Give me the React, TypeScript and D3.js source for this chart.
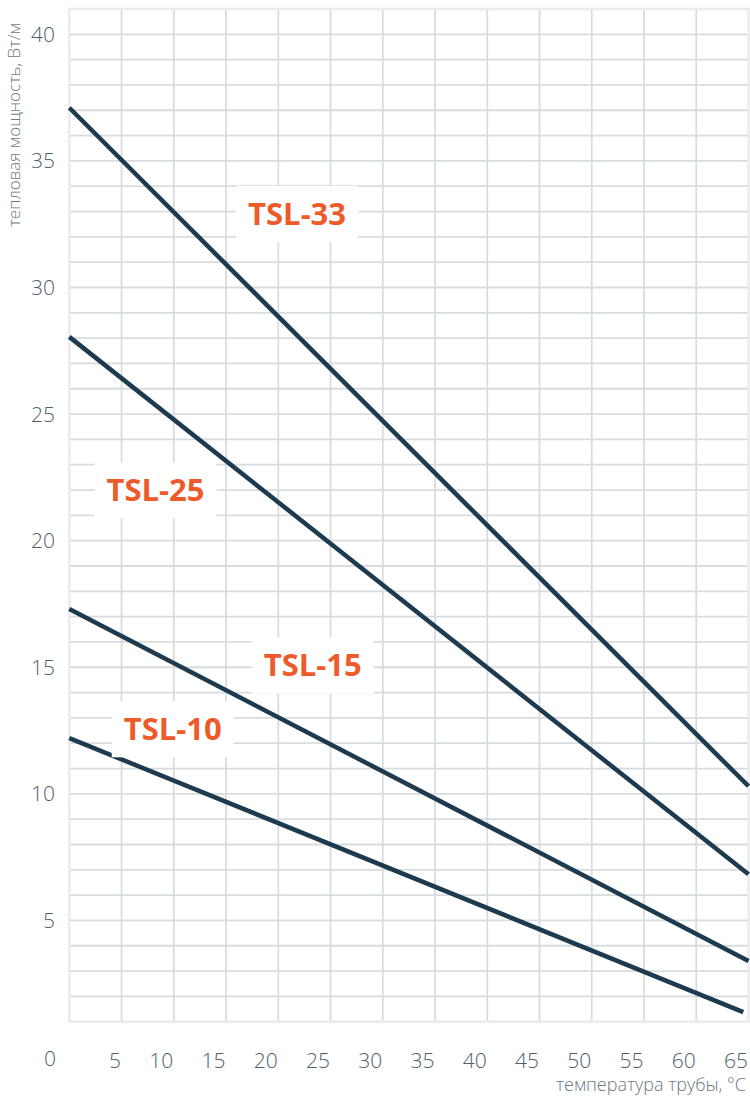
import * as d3 from 'd3';

// temperature axis (°C) and power axis (W/m)
const X_TICKS = [5, 10, 15, 20, 25, 30, 35, 40, 45, 50, 55, 60, 65];
const Y_TICKS = [5, 10, 15, 20, 25, 30, 35, 40];

const TSL33 = [
  { t: 0, p: 37.1 },
  { t: 65, p: 10.3 },
];
const TSL25 = [
  { t: 0, p: 28.05 },
  { t: 65, p: 6.82 },
];
const TSL15 = [
  { t: 0, p: 17.3 },
  { t: 65, p: 3.4 },
];
const TSL10 = [
  { t: 0, p: 12.2 },
  { t: 64.5, p: 1.38 },
];

const SERIES = [
  { name: 'TSL-33', data: TSL33, label: { t: 21.8, p: 32.9 } },
  { name: 'TSL-25', data: TSL25, label: { t: 8.25, p: 22.0 } },
  { name: 'TSL-15', data: TSL15, label: { t: 23.3, p: 15.07 } },
  { name: 'TSL-10', data: TSL10, label: { t: 9.9, p: 12.55 } },
];

const W = 750;
const H = 1097;
const LINE = '#1e3a4e';
const ORANGE = '#ee5a2a';
const GRID = '#d9dcdf';
const BORDER = '#eaecee';
const TICK_TEXT = '#4e5e6e';
const FONT = '"Open Sans", "DejaVu Sans", sans-serif';

export default function App() {
  const x = d3.scaleLinear().domain([0, 65]).range([69.3, 748.5]);
  const y = d3.scaleLinear().domain([1, 41]).range([1021.7, 9]);

  const line = d3.line<{ t: number; p: number }>()
    .x((d) => x(d.t))
    .y((d) => y(d.p));

  const hLines = d3.range(2, 41);
  const vLines = d3.range(5, 65, 5);

  return (
    <svg width={W} height={H} style={{ position: 'absolute', left: 0, top: 0, display: 'block', background: '#fff' }}>
      {/* grid */}
      {hLines.map((v) => (
        <line key={`h${v}`} x1={x(0)} x2={x(65)} y1={y(v)} y2={y(v)} stroke={GRID} strokeWidth={1.8} />
      ))}
      {vLines.map((v) => (
        <line key={`v${v}`} x1={x(v)} x2={x(v)} y1={y(41)} y2={y(1)} stroke={GRID} strokeWidth={1.8} />
      ))}
      <rect x={x(0)} y={y(41)} width={x(65) - x(0)} height={y(1) - y(41)} fill="none" stroke={BORDER} strokeWidth={2.6} />

      {/* curves */}
      {SERIES.map((s) => (
        <path key={s.name} d={line(s.data) ?? ''} fill="none" stroke={LINE} strokeWidth={4.5} />
      ))}

      {/* series labels */}
      {SERIES.map((s) => {
        const cx = x(s.label.t);
        const cy = y(s.label.p);
        return (
          <g key={`l${s.name}`}>
            <rect x={cx - 61} y={cy - 28} width={122} height={56} fill="#fff" />
            <text x={cx} y={cy + 11} textAnchor="middle" fontFamily={FONT} fontWeight={700} fontSize={31} fill={ORANGE}>
              {s.name}
            </text>
          </g>
        );
      })}

      {/* y ticks */}
      {Y_TICKS.map((v) => (
        <text key={`yt${v}`} x={55} y={y(v) + 7.5} textAnchor="end" fontFamily={FONT} fontWeight={300} fontSize={21} fill={TICK_TEXT}>
          {v}
        </text>
      ))}
      {/* x ticks */}
      {X_TICKS.map((v) => (
        <text key={`xt${v}`} x={x(v) - 0.5} y={1067.5} textAnchor="end" fontFamily={FONT} fontWeight={300} fontSize={21} fill={TICK_TEXT}>
          {v}
        </text>
      ))}
      <text x={56} y={1066} textAnchor="end" fontFamily={FONT} fontWeight={300} fontSize={21} fill={TICK_TEXT}>0</text>

      {/* axis titles */}
      <text transform="translate(20,23) rotate(-90)" textAnchor="end" fontFamily={FONT} fontWeight={300} fontSize={17} fill="#6c7884">
        тепловая мощность, Вт/м
      </text>
      <text x={746} y={1091} textAnchor="end" fontFamily={FONT} fontWeight={300} fontSize={18} fill="#6c7884">
        температура трубы, °C
      </text>
    </svg>
  );
}
